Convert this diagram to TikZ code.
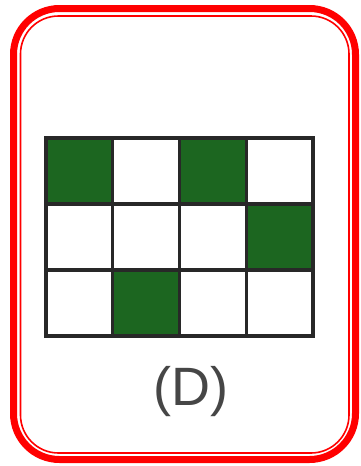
\documentclass[tikz,border=0pt]{standalone}
\usepackage{fontspec}
\setmainfont{Liberation Sans}
\definecolor{cellgreen}{RGB}{28,102,32}
\definecolor{gridgray}{RGB}{40,40,40}
\definecolor{labelgray}{RGB}{70,70,70}
\begin{document}
\begin{tikzpicture}[x=1pt,y=-1pt]
\useasboundingbox (0,0) rectangle (360,466);
\draw[red,line width=7pt,rounded corners=46pt] (13.5,8.5) rectangle (355.5,459.5);
\draw[red,line width=1.6pt,rounded corners=38pt] (20.5,16) rectangle (349,453);
% shaded cells
\foreach \c/\r in {0/0,2/0,3/1,1/2}
  \fill[cellgreen] (46+66.75*\c,138+66*\r) rectangle ++(66.75,66);
\foreach \c in {0,...,4}
  \draw[gridgray,line width=3.2pt] (46+66.75*\c,138) -- (46+66.75*\c,336);
\foreach \r in {0,...,3}
  \draw[gridgray,line width=3.2pt] (44.4,138+66*\r) -- (314.6,138+66*\r);
\node[text=labelgray,font=\fontsize{54}{54}\selectfont] (lblD) at (191,392) {(D)};
\end{tikzpicture}
\end{document}
